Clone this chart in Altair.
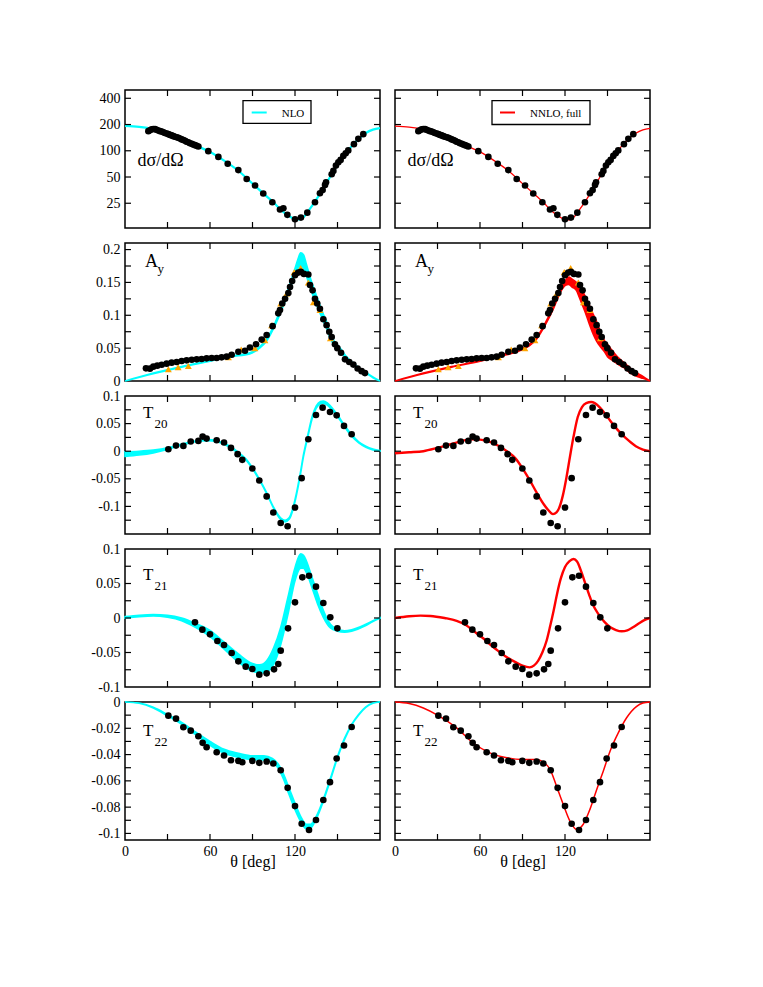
import altair as alt
import pandas as pd

FONT = "Liberation Serif"
CYAN = "#00FFFF"
RED = "#FF0000"
ORANGE = "#FFA500"
W, H = 255, 138
TL = 6

X_TICKS = [30, 60, 90, 120, 150]
X_LABELS = [0, 60, 120]

# ---------------- d sigma / d Omega ----------------
TH_DS_DAT = [16.5, 17.6, 18.8, 20.0, 21.2, 22.3, 23.5, 24.7, 25.9, 27.1, 28.2, 29.4, 30.6, 31.8, 32.9,
             34.1, 35.3, 36.5, 37.6, 38.8, 40.0, 41.2, 42.4, 43.5, 44.7, 45.9, 47.1, 48.2, 49.4, 50.6,
             51.8, 58.8, 65.9, 72.5, 80.0, 85.9, 91.8, 97.6, 104.0, 109.4, 111.8, 114.6, 120.0, 124.2,
             128.7, 134.1, 137.6, 139.5, 141.2, 141.9, 145.9, 147.1, 148.9, 150.6, 152.2, 154.1, 155.8,
             157.6, 161.6, 164.7, 168.2]
DS_DAT = [168, 172, 176, 178, 177, 174, 171, 168, 166, 163, 160, 158, 155, 152, 150,
          147, 145, 143, 141, 138, 135, 133, 130, 127, 125, 122, 120, 118, 116, 114,
          112, 99, 85, 71, 60, 47.5, 40, 32.3, 25.7, 21.2, 21.9, 18.4, 16.4, 17.1,
          19.5, 25.7, 32.6, 35.5, 40.6, 43.5, 53.8, 58.7, 67.6, 73.8, 78.5, 87.3, 93.7,
          101, 119, 137, 155]
TH_DS_CURVE = [0, 10, 20, 30, 40, 50, 60, 70, 80, 90, 100, 105, 110, 115, 120, 123, 126, 130, 135,
               140, 145, 150, 155, 160, 165, 170, 175, 180]
DS_NLO = [193, 188, 177, 157, 135, 115, 97, 77, 59, 42, 30, 25.5, 21, 18.2, 16.4, 16.3, 17.3, 21, 27.5,
          37, 51, 70, 90, 113, 137, 160, 175, 182]
DS_NNLO = [192, 187, 176, 157, 135, 115, 97, 77, 59, 42, 30, 25.3, 20.8, 18.0, 16.2, 16.1, 17.1, 20.8, 27.3,
           37, 51, 70, 90, 113, 137, 159, 174, 181]

# ---------------- A_y ----------------
TH_AY_DAT = [14.8, 17.6, 20.0, 22.8, 25.9, 29.4, 32.9, 36.5, 40.0, 43.5, 47.1, 50.6, 54.1, 57.6, 61.2,
             64.7, 68.2, 71.8, 75.3, 80.0, 84.7, 88.2, 92.5, 96.5, 100.0, 104.2, 108.2, 109.4, 111.0,
             113.0, 115.3, 116.5, 118.0, 120.0, 122.3, 124.2, 126.3, 129.4, 130.6, 132.4, 134.1, 135.7,
             137.6, 140.0, 142.3, 144.2, 145.9, 148.2, 149.9, 152.5, 155.3, 158.3, 161.2, 164.2, 167.0, 169.4]
AY_DAT = [0.0193, 0.0188, 0.0218, 0.0233, 0.0248, 0.0264, 0.0279, 0.0289, 0.0304, 0.0314, 0.0324, 0.0330,
          0.0335, 0.0345, 0.0350, 0.0350, 0.0360, 0.0370, 0.0400, 0.0445, 0.0460, 0.0510, 0.0560, 0.0630,
          0.0700, 0.0835, 0.1030, 0.1080, 0.1180, 0.1250, 0.1340, 0.1430, 0.1520, 0.1610, 0.1650, 0.1660,
          0.1630, 0.1620, 0.1460, 0.1380, 0.1250, 0.1180, 0.1100, 0.0940, 0.0850, 0.0750, 0.0670, 0.0560,
          0.0500, 0.0430, 0.0330, 0.0290, 0.0250, 0.0190, 0.0150, 0.0120]
TH_AY_TRI = [30.6, 37.5, 44.7, 73.0, 82.0, 91.7, 98.8, 103.5, 109.9, 114.1, 119.5, 124.0, 129.4, 133.0,
             137.6, 145.0]
AY_TRI = [0.018, 0.021, 0.023, 0.036, 0.048, 0.050, 0.062, 0.085, 0.118, 0.133, 0.166, 0.172, 0.150, 0.120,
          0.108, 0.065]
TH_AY_NLO = [0, 20, 40, 60, 75, 88, 95, 100, 106, 111, 115.5, 119.5, 122, 124, 126, 128, 130, 132.5, 135,
             137.5, 140, 142, 145, 148, 152, 156, 160, 165, 170, 175, 180]
AY_NLO_LO = [0, 0.011, 0.021, 0.030, 0.037, 0.041, 0.050, 0.061, 0.085, 0.110, 0.135, 0.158, 0.170, 0.175,
             0.172, 0.160, 0.147, 0.131, 0.117, 0.104, 0.091, 0.082, 0.064, 0.054, 0.045, 0.034, 0.026,
             0.018, 0.012, 0.005, 0]
AY_NLO_HI = [0, 0.012, 0.022, 0.031, 0.038, 0.043, 0.052, 0.064, 0.089, 0.116, 0.142, 0.168, 0.185, 0.195,
             0.192, 0.178, 0.163, 0.146, 0.131, 0.116, 0.102, 0.092, 0.071, 0.060, 0.050, 0.038, 0.029,
             0.020, 0.013, 0.006, 0]
TH_AY_NNLO = [0, 20, 40, 60, 75, 88, 95, 100, 106, 112, 117, 120, 122.5, 125, 128, 130, 132, 134, 136, 138,
              140, 142, 145, 148, 150, 153, 157, 161, 166.5, 171, 175, 180]
AY_NNLO_LO = [0, 0.011, 0.021, 0.030, 0.038, 0.046, 0.054, 0.064, 0.085, 0.111, 0.136, 0.145, 0.147, 0.143,
              0.138, 0.128, 0.117, 0.106, 0.094, 0.082, 0.071, 0.062, 0.052, 0.044, 0.037, 0.032, 0.026,
              0.021, 0.0117, 0.007, 0.004, 0]
AY_NNLO_HI = [0, 0.012, 0.022, 0.031, 0.040, 0.048, 0.056, 0.066, 0.088, 0.114, 0.140, 0.152, 0.158, 0.155,
              0.150, 0.145, 0.139, 0.130, 0.121, 0.111, 0.101, 0.092, 0.075, 0.061, 0.056, 0.047, 0.037,
              0.029, 0.019, 0.012, 0.007, 0]

# ---------------- T20 ----------------
TH_T20_DAT = [30.6, 36.0, 41.2, 46.4, 51.8, 54.8, 57.6, 64.7, 69.9, 74.8, 79.5, 82.8, 89.9, 94.8, 100.0,
              104.7, 109.9, 114.8, 120.0, 124.7, 129.4, 134.8, 139.5, 144.7, 149.4, 154.6, 160.0]
T20_DAT = [0.0036, 0.0102, 0.0096, 0.0175, 0.0187, 0.0265, 0.0229, 0.0199, 0.0157, 0.0060, -0.0054,
           -0.0157, -0.0313, -0.0530, -0.0819, -0.1110, -0.1300, -0.1360, -0.1020, -0.0488, 0.0217, 0.0656,
           0.0789, 0.0710, 0.0650, 0.0458, 0.0307]
TH_T20_NLO = [0, 10, 20, 30, 40, 50, 58, 65, 72, 80, 85, 90, 95, 100, 105, 110, 113, 116, 119, 121, 123.5,
              126, 129, 132, 135, 138, 140, 143, 147, 150, 155, 160, 165, 170, 175, 180]
T20_NLO_LO = [-0.0095, -0.007, -0.003, 0.003, 0.011, 0.017, 0.019, 0.017, 0.010, -0.004, -0.015, -0.032,
              -0.053, -0.077, -0.104, -0.124, -0.128, -0.123, -0.102, -0.080, -0.047, -0.010, 0.025, 0.058,
              0.078, 0.086, 0.087, 0.083, 0.072, 0.063, 0.044, 0.027, 0.015, 0.007, 0.002, 0.000]
T20_NLO_HI = [-0.001, 0.000, 0.002, 0.006, 0.013, 0.019, 0.021, 0.019, 0.012, -0.002, -0.013, -0.030,
              -0.051, -0.075, -0.102, -0.121, -0.125, -0.120, -0.098, -0.076, -0.043, -0.006, 0.029, 0.062,
              0.082, 0.090, 0.091, 0.087, 0.076, 0.066, 0.047, 0.030, 0.017, 0.009, 0.004, 0.001]
TH_T20_NNLO = [0, 10, 20, 30, 40, 50, 55, 60, 67, 73, 79, 85, 90, 95, 100, 105, 108, 111.5, 114, 116, 118.5,
               121, 123.5, 126, 129, 132, 135, 138.5, 141, 145, 150, 155, 160, 165, 170, 175, 180]
T20_NNLO = [-0.0036, -0.002, 0.000, 0.006, 0.013, 0.020, 0.0215, 0.021, 0.017, 0.010, 0.000, -0.013, -0.031,
            -0.052, -0.075, -0.096, -0.106, -0.114, -0.111, -0.102, -0.080, -0.048, -0.010, 0.026, 0.062,
            0.080, 0.087, 0.089, 0.087, 0.078, 0.062, 0.045, 0.031, 0.019, 0.009, 0.003, 0.000]

# ---------------- T21 ----------------
TH_T21_DAT = [49.4, 54.6, 60.0, 65.2, 69.9, 75.3, 80.0, 85.2, 89.9, 94.8, 100.0, 105.2, 108.2, 109.9, 115.1,
              120.0, 125.2, 129.9, 134.8, 140.0, 144.9, 149.9]
T21_DAT = [-0.0063, -0.0169, -0.0237, -0.0333, -0.0391, -0.0507, -0.0628, -0.0705, -0.0739, -0.0821,
           -0.0802, -0.0744, -0.0667, -0.0473, -0.0150, 0.0227, 0.0589, 0.0613, 0.0454, 0.0217, 0.0010, -0.0150]
TH_T21_NLO = [0, 10, 20, 30, 40, 50, 60, 70, 80, 90, 95, 100, 105, 110, 115, 120, 124, 126, 128, 132, 136,
              140, 145, 150, 155, 160, 170, 175, 180]
T21_NLO_LO = [0.000, 0.002, 0.003, 0.001, -0.004, -0.014, -0.027, -0.045, -0.064, -0.077, -0.080, -0.078,
              -0.067, -0.038, 0.005, 0.054, 0.072, 0.072, 0.066, 0.044, 0.020, 0.001, -0.0145, -0.019,
              -0.0205, -0.019, -0.011, -0.005, -0.0005]
T21_NLO_HI = [0.002, 0.004, 0.005, 0.004, 0.000, -0.008, -0.018, -0.035, -0.052, -0.066, -0.068, -0.062,
              -0.043, -0.013, 0.030, 0.073, 0.093, 0.091, 0.083, 0.059, 0.035, 0.011, -0.009, -0.016,
              -0.0185, -0.017, -0.009, -0.004, 0.0005]
TH_T21_NNLO = [0, 10, 18, 25, 35, 43.5, 50, 55, 62, 67, 73, 79, 85, 90, 95, 98, 101, 104, 107, 109.5, 112,
               114.5, 117, 120, 123, 126, 128.5, 131, 134, 137, 140, 143.5, 148, 152, 156, 160, 164, 168,
               172, 176, 180]
T21_NNLO = [0.000, 0.0025, 0.0034, 0.003, 0.000, -0.004, -0.010, -0.018, -0.029, -0.038, -0.048, -0.057,
            -0.064, -0.069, -0.0715, -0.069, -0.062, -0.050, -0.033, -0.012, 0.011, 0.036, 0.057, 0.074,
            0.082, 0.0855, 0.082, 0.070, 0.052, 0.034, 0.018, 0.006, -0.006, -0.0135, -0.0175, -0.0193,
            -0.018, -0.0135, -0.008, -0.003, 0.000]

# ---------------- T22 ----------------
TH_T22_DAT = [30.6, 36.0, 41.2, 46.4, 51.8, 54.8, 57.6, 64.7, 69.9, 74.8, 80.0, 82.8, 89.9, 94.8, 100.0,
              104.7, 109.9, 114.8, 120.0, 124.7, 129.9, 134.8, 140.0, 144.7, 149.4, 154.6, 160.0]
T22_DAT = [-0.0104, -0.0127, -0.0192, -0.0218, -0.0261, -0.0311, -0.0344, -0.0382, -0.0407, -0.0443,
           -0.0448, -0.0458, -0.0448, -0.0463, -0.0453, -0.0468, -0.0519, -0.0653, -0.0792, -0.0926,
           -0.0974, -0.0898, -0.0746, -0.0610, -0.0430, -0.0331, -0.0190]
TH_T22_NLO = [0, 10, 20, 30, 40, 50, 60, 70, 80, 90, 98, 104, 108, 112, 116, 120, 124, 128, 131, 135, 140,
              145, 150, 155, 160, 165, 170, 175, 180]
T22_NLO_LO = [0, -0.001, -0.0045, -0.0105, -0.017, -0.025, -0.033, -0.039, -0.042, -0.0438, -0.044, -0.046,
              -0.050, -0.059, -0.071, -0.082, -0.091, -0.0965, -0.096, -0.089, -0.0755, -0.0595, -0.0425,
              -0.0285, -0.0175, -0.0098, -0.004, -0.001, 0]
T22_NLO_HI = [0, -0.0008, -0.004, -0.0095, -0.0155, -0.023, -0.030, -0.036, -0.039, -0.041, -0.041, -0.043,
              -0.047, -0.055, -0.066, -0.077, -0.087, -0.093, -0.093, -0.087, -0.074, -0.058, -0.0415,
              -0.0275, -0.017, -0.0093, -0.0037, -0.0008, 0]
TH_T22_NNLO = [0, 10, 20, 30.6, 43.5, 55, 67, 79, 90, 100, 104.7, 109.4, 114, 118.8, 123.5, 128.2, 132.9,
               137.6, 142.4, 147, 151.8, 157.6, 163.5, 170.6, 175, 180]
T22_NNLO = [0, -0.0012, -0.0046, -0.0104, -0.0197, -0.031, -0.0387, -0.0425, -0.0438, -0.0438, -0.0458,
            -0.051, -0.064, -0.078, -0.0906, -0.0969, -0.093, -0.0817, -0.0665, -0.0526, -0.0374, -0.0235,
            -0.012, -0.0033, -0.0008, 0]

# ---------------- panel definitions ----------------
OBS = [
    dict(domain=[13, 498], type="log",
         yticks=[25, 50, 100, 200, 400], ylabels=[25, 50, 100, 200, 400],
         data=(TH_DS_DAT, DS_DAT), tri=None,
         nlo=("line", TH_DS_CURVE, DS_NLO, 2.2), nnlo=("line", TH_DS_CURVE, DS_NNLO, 1.3),
         label=("dσ/dΩ", 12.5, 76, 18, None, 0, 0, 0)),
    dict(domain=[0, 0.21], type="linear",
         yticks=[0.025, 0.05, 0.075, 0.1, 0.125, 0.15, 0.175, 0.2], ylabels=[0, 0.05, 0.1, 0.15, 0.2],
         data=(TH_AY_DAT, AY_DAT), tri=(TH_AY_TRI, AY_TRI),
         nlo=("band", TH_AY_NLO, AY_NLO_LO, AY_NLO_HI), nnlo=("band", TH_AY_NNLO, AY_NNLO_LO, AY_NNLO_HI),
         label=("A", 20, 24, 18, "y", 32.5, 29.5, 13)),
    dict(domain=[-0.15, 0.1], type="linear",
         yticks=[-0.125, -0.1, -0.075, -0.05, -0.025, 0, 0.025, 0.05, 0.075],
         ylabels=[-0.1, -0.05, 0, 0.05, 0.1],
         data=(TH_T20_DAT, T20_DAT), tri=None,
         nlo=("band", TH_T20_NLO, T20_NLO_LO, T20_NLO_HI), nnlo=("line", TH_T20_NNLO, T20_NNLO, 2.4),
         label=("T", 18, 21.7, 17, "20", 29.5, 31.5, 13)),
    dict(domain=[-0.1, 0.1], type="linear",
         yticks=[-0.075, -0.05, -0.025, 0, 0.025, 0.05, 0.075],
         ylabels=[-0.1, -0.05, 0, 0.05, 0.1],
         data=(TH_T21_DAT, T21_DAT), tri=None,
         nlo=("band", TH_T21_NLO, T21_NLO_LO, T21_NLO_HI), nnlo=("line", TH_T21_NNLO, T21_NNLO, 2.4),
         label=("T", 18, 31, 17, "21", 29.5, 41, 13)),
    dict(domain=[-0.105, 0], type="linear",
         yticks=[-0.1, -0.09, -0.08, -0.07, -0.06, -0.05, -0.04, -0.03, -0.02, -0.01],
         ylabels=[-0.1, -0.08, -0.06, -0.04, -0.02, 0],
         data=(TH_T22_DAT, T22_DAT), tri=None,
         nlo=("band", TH_T22_NLO, T22_NLO_LO, T22_NLO_HI), nnlo=("line", TH_T22_NNLO, T22_NNLO, 1.5),
         label=("T", 18, 33.6, 17, "22", 29.5, 43.5, 13)),
]

ONE = pd.DataFrame({"k": [0]})


def panel(obs, side, bottom):
    xs = alt.Scale(domain=[0, 180], nice=False, zero=False)
    ys = alt.Scale(domain=obs["domain"], nice=False, zero=False, type=obs["type"])
    if bottom:
        xaxis = alt.Axis(values=X_LABELS, title="θ [deg]", ticks=False, domain=False, grid=False,
                         labelFlush=False, labelPadding=4, labelFontSize=14, labelFont=FONT,
                         titleFont=FONT, titleFontSize=16, titleFontWeight="normal",
                         titleBaseline="middle", titleY=21, labelExpr="'' + datum.value")
    else:
        xaxis = None
    if side == "L":
        yaxis = alt.Axis(values=obs["ylabels"], title=None, ticks=False, domain=False, grid=False,
                         labelPadding=5, labelFontSize=14, labelFont=FONT,
                         labelExpr="'' + datum.value")
    else:
        yaxis = None

    def X():
        return alt.X("t:Q", scale=xs, axis=xaxis)

    def Y():
        return alt.Y("v:Q", scale=ys, axis=yaxis)

    layers = []
    spec = obs["nlo"] if side == "L" else obs["nnlo"]
    color = CYAN if side == "L" else RED
    if spec[0] == "band":
        d = pd.DataFrame({"t": spec[1], "v": spec[2], "v2": spec[3]})
        layers.append(alt.Chart(d).mark_area(color=color, opacity=1, stroke=color, strokeWidth=1.6,
                                             interpolate="monotone").encode(x=X(), y=Y(), y2="v2:Q"))
    else:
        d = pd.DataFrame({"t": spec[1], "v": spec[2]})
        layers.append(alt.Chart(d).mark_line(color=color, strokeWidth=spec[3],
                                             interpolate="monotone").encode(x=X(), y=Y()))
    if obs["tri"] is not None:
        dt = pd.DataFrame({"t": obs["tri"][0], "v": obs["tri"][1]})
        layers.append(alt.Chart(dt).mark_point(shape="triangle-up", filled=True, color=ORANGE, size=48,
                                               opacity=1).encode(x=X(), y=Y()))
    dd = pd.DataFrame({"t": obs["data"][0], "v": obs["data"][1]})
    layers.append(alt.Chart(dd).mark_circle(color="black", size=44, opacity=1).encode(x=X(), y=Y()))
    # inward ticks
    yt = pd.DataFrame({"v": obs["yticks"]})
    xt = pd.DataFrame({"t": X_TICKS})
    for x0, x1 in [(0, TL), (W - TL, W)]:
        layers.append(alt.Chart(yt).mark_rule(color="black", strokeWidth=1.2).encode(
            y=Y(), x=alt.value(x0), x2=alt.value(x1)))
    for y0, y1 in [(0, TL), (H - TL, H)]:
        layers.append(alt.Chart(xt).mark_rule(color="black", strokeWidth=1.2).encode(
            x=X(), y=alt.value(y0), y2=alt.value(y1)))
    # label
    lab = obs["label"]
    layers.append(alt.Chart(ONE).mark_text(text=lab[0], font=FONT, fontSize=lab[3], align="left",
                                           baseline="alphabetic", color="black").encode(
        x=alt.value(lab[1]), y=alt.value(lab[2])))
    if lab[4]:
        layers.append(alt.Chart(ONE).mark_text(text=lab[4], font=FONT, fontSize=lab[7], align="left",
                                               baseline="alphabetic", color="black").encode(
            x=alt.value(lab[5]), y=alt.value(lab[6])))
    # legend
    if obs["type"] == "log":
        if side == "L":
            bx0, bx1, by0, by1, lx0, lx1, tx, txt = 118, 186, 10.7, 33.3, 126.7, 141.7, 156.7, "NLO"
        else:
            bx0, bx1, by0, by1, lx0, lx1, tx, txt = 97, 195, 10.7, 34.5, 105, 120, 135, "NNLO, full"
        layers.append(alt.Chart(ONE).mark_rect(fill="white", stroke="black", strokeWidth=1.3).encode(
            x=alt.value(bx0), x2=alt.value(bx1), y=alt.value(by0), y2=alt.value(by1)))
        layers.append(alt.Chart(ONE).mark_rule(color=color, strokeWidth=2).encode(
            x=alt.value(lx0), x2=alt.value(lx1), y=alt.value(22.5)))
        layers.append(alt.Chart(ONE).mark_text(text=txt, font=FONT, fontSize=11, align="left",
                                               baseline="alphabetic", color="black").encode(
            x=alt.value(tx), y=alt.value(26.7)))
    return alt.layer(*layers).properties(width=W, height=H)


panels = []
for i, obs in enumerate(OBS):
    bottom = (i == len(OBS) - 1)
    panels.append(panel(obs, "L", bottom))
    panels.append(panel(obs, "R", bottom))

chart = alt.concat(*panels, columns=2, spacing=15, bounds="flush").properties(
    padding={"left": 82, "top": 80, "right": 5, "bottom": 5}, background="white"
).configure_view(stroke="black", strokeWidth=1.5).configure_axis(
    labelFont=FONT, titleFont=FONT, labelColor="black", titleColor="black", titleFontWeight="normal"
).configure_text(font=FONT)

chart.save("out.html", embed_options={"renderer": "svg", "actions": False})
